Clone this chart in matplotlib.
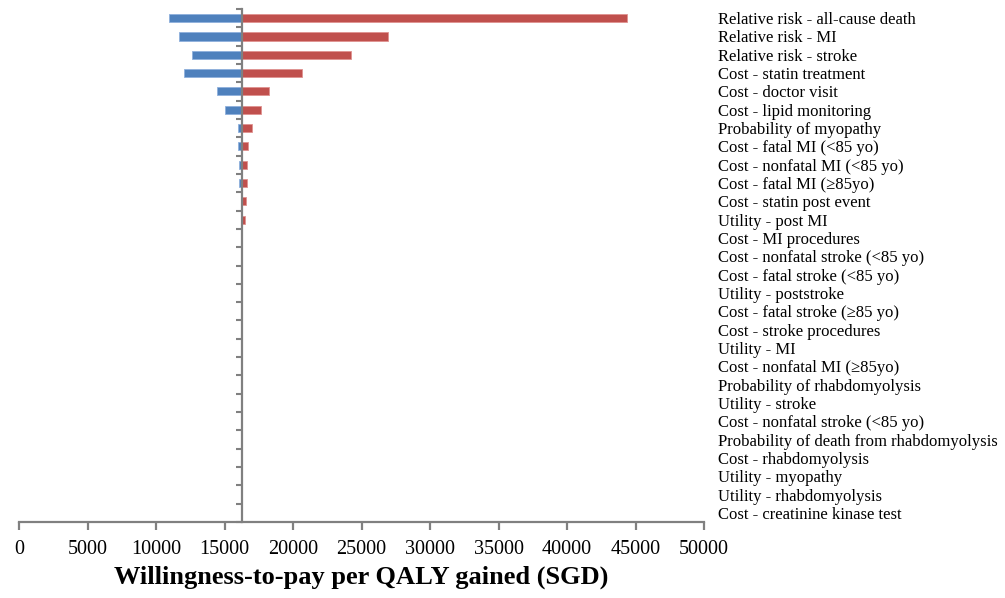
import numpy as np
import matplotlib
matplotlib.use("Agg")
from matplotlib import pyplot as plt

# tornado diagram, one-way sensitivity analysis around the base-case ICER
base = 16300

params = [
    "Relative risk - all-cause death",
    "Relative risk - MI",
    "Relative risk - stroke",
    "Cost - statin treatment",
    "Cost - doctor visit",
    "Cost - lipid monitoring",
    "Probability of myopathy",
    "Cost - fatal MI (<85 yo)",
    "Cost - nonfatal MI (<85 yo)",
    "Cost - fatal MI (\u226585yo)",
    "Cost - statin post event",
    "Utility - post MI",
    "Cost - MI procedures",
    "Cost - nonfatal stroke (<85 yo)",
    "Cost - fatal stroke (<85 yo)",
    "Utility - poststroke",
    "Cost - fatal stroke (\u226585 yo)",
    "Cost - stroke procedures",
    "Utility - MI",
    "Cost - nonfatal MI (\u226585yo)",
    "Probability of rhabdomyolysis",
    "Utility - stroke",
    "Cost - nonfatal stroke (<85 yo)",
    "Probability of death from rhabdomyolysis",
    "Cost - rhabdomyolysis",
    "Utility - myopathy",
    "Utility - rhabdomyolysis",
    "Cost - creatinine kinase test",
]

low = [10970, 11700, 12610, 12040, 14450, 15040, 16020, 16020, 16060, 16060,
       16200, 16300, 16300, 16300, 16300, 16300, 16300, 16300, 16300, 16300,
       16300, 16300, 16300, 16300, 16300, 16300, 16300, 16300]
high = [44380, 26910, 24230, 20680, 18270, 17690, 17030, 16740, 16620, 16620,
        16570, 16520, 16300, 16300, 16300, 16300, 16300, 16300, 16300, 16300,
        16300, 16300, 16300, 16300, 16300, 16300, 16300, 16300]

xticks = np.arange(0, 50001, 5000)

plt.rcParams['font.family'] = ['Liberation Serif', 'DejaVu Serif']

fig = plt.figure(figsize=(10.05, 5.98), dpi=100)
ax = fig.add_axes([19/1005, 76/598, 685/1005, 513/598])

y = np.arange(len(params))
low = np.array(low)
high = np.array(high)

ax.barh(y, base - low, left=low, height=0.44, color="#4F81BD",
        edgecolor="#8fb0dc", linewidth=0.6)
ax.barh(y, high - base, left=base, height=0.44, color="#C0504D",
        edgecolor="#e09290", linewidth=0.6)

ax.set_xlim(0, 50000)
ax.set_ylim(len(params) - 0.5, -0.5)

ax.spines['top'].set_visible(False)
ax.spines['right'].set_visible(False)
ax.spines['left'].set_position(('data', base))
ax.spines['left'].set_color("#808080")
ax.spines['left'].set_linewidth(1.6)
ax.spines['left'].set_zorder(3)
ax.spines['bottom'].set_color("#808080")
ax.spines['bottom'].set_linewidth(1.6)

ax.set_xticks(xticks)
ax.set_xticklabels([str(v) for v in xticks], fontsize=14.5)
ax.tick_params(axis='x', direction='out', length=6, width=1.6, color="#808080", pad=7)

ax.set_yticks(y)
ax.set_yticklabels(params, fontsize=12)
ax.set_yticks(np.arange(-0.5, len(params), 1), minor=True)
ax.tick_params(axis='y', which='major', left=False, right=False,
               labelleft=False, labelright=True, length=0, pad=10)
ax.tick_params(axis='y', which='minor', left=True, right=False,
               direction='out', length=4, width=1.5, color="#808080")

ax.set_xlabel("Willingness-to-pay per QALY gained (SGD)", fontsize=19,
              fontweight='bold', labelpad=5)

fig.savefig("out.png", dpi=100)
